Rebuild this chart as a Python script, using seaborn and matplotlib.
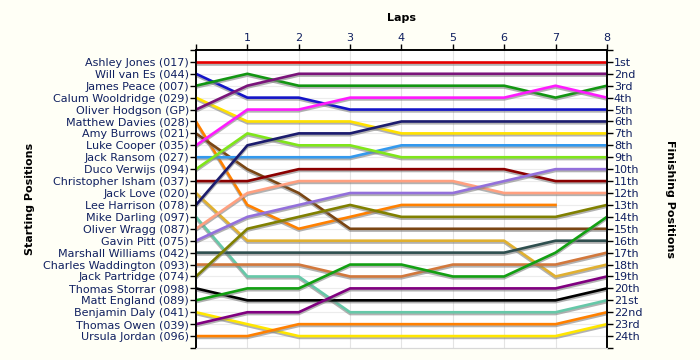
import pandas as pd
import numpy as np
import seaborn as sns
from matplotlib import pyplot as plt
import matplotlib.patheffects as pe

drivers = [
    'Ashley Jones (017)', 'Will van Es (044)', 'James Peace (007)',
    'Calum Wooldridge (029)', 'Oliver Hodgson (GP)', 'Matthew Davies (028)',
    'Amy Burrows (021)', 'Luke Cooper (035)', 'Jack Ransom (027)',
    'Duco Verwijs (094)', 'Christopher Isham (037)', 'Jack Love (020)',
    'Lee Harrison (078)', 'Mike Darling (097)', 'Oliver Wragg (087)',
    'Gavin Pitt (075)', 'Marshall Williams (042)', 'Charles Waddington (093)',
    'Jack Partridge (074)', 'Thomas Storrar (098)', 'Matt England (089)',
    'Benjamin Daly (041)', 'Thomas Owen (039)', 'Ursula Jordan (096)',
]

colors = [
    '#e60000', '#1414c8', '#129612', '#ffe100', '#7a147a', '#ff8000',
    '#7a4614', '#ff1aff', '#3399ee', '#80e61a', '#8b0000', '#e0b030',
    '#1c1c6e', '#66c8a8', '#ffa080', '#9370db', '#2f4f4f', '#d2783c',
    '#808000', '#000000', '#12a012', '#ffe600', '#800080', '#ff8000',
]

laps = [0, 1, 2, 3, 4, 5, 6, 7, 8]

# position of each driver at the end of each lap (None = retired)
positions = [
    [1, 1, 1, 1, 1, 1, 1, 1, 1],
    [2, 4, 4, 5, 5, 5, 5, 5, 5],
    [3, 2, 3, 3, 3, 3, 3, 4, 3],
    [4, 6, 6, 6, 7, 7, 7, 7, 7],
    [5, 3, 2, 2, 2, 2, 2, 2, 2],
    [6, 13, 15, 14, 13, 13, 13, 13, None],
    [7, 10, 12, 15, 15, 15, 15, 15, 15],
    [8, 5, 5, 4, 4, 4, 4, 3, 4],
    [9, 9, 9, 9, 8, 8, 8, 8, 8],
    [10, 7, 8, 8, 9, 9, 9, 9, 9],
    [11, 11, 10, 10, 10, 10, 10, 11, 11],
    [12, 16, 16, 16, 16, 16, 16, 19, 18],
    [13, 8, 7, 7, 6, 6, 6, 6, 6],
    [14, 19, 19, 22, 22, 22, 22, 22, 21],
    [15, 12, 11, 11, 11, 11, 12, 12, 12],
    [16, 14, 13, 12, 12, 12, 11, 10, 10],
    [17, 17, 17, 17, 17, 17, 17, 16, 16],
    [18, 18, 18, 19, 19, 18, 18, 18, 17],
    [19, 15, 14, 13, 14, 14, 14, 14, 13],
    [20, 21, 21, 21, 21, 21, 21, 21, 20],
    [21, 20, 20, 18, 18, 19, 19, 17, 14],
    [22, 23, 24, 24, 24, 24, 24, 24, 23],
    [23, 22, 22, 20, 20, 20, 20, 20, 19],
    [24, 24, 23, 23, 23, 23, 23, 23, 22],
]

finish_labels = ['1st', '2nd', '3rd'] + ['%dth' % i for i in range(4, 21)] + \
    ['21st', '22nd', '23rd', '24th']

rows = []
for name, pos in zip(drivers, positions):
    for lap, p in zip(laps, pos):
        if p is not None:
            rows.append({'driver': name, 'lap': lap, 'pos': p})
df = pd.DataFrame(rows)

label_col = '#102060'
bg = '#fffff6'

fig = plt.figure(figsize=(7, 3.6), dpi=100, facecolor=bg)
ax = fig.add_axes([0.28, 0.0333, 0.587, 0.828])
ax.set_facecolor('white')

for lap in laps:
    ax.axvline(lap, color='#e4e4e4', lw=0.8, zorder=0)
for p in range(1, 25):
    ax.axhline(p, color='#ececec', lw=0.8, zorder=0)

sns.lineplot(data=df, x='lap', y='pos', hue='driver', palette=dict(zip(drivers, colors)),
             estimator=None, sort=False, lw=1.9, legend=False, ax=ax, zorder=3)
for line in ax.get_lines():
    if len(line.get_xdata()) > 2:
        line.set_path_effects([pe.SimpleLineShadow(offset=(0, -1.3), shadow_color='#808080', alpha=0.6),
                               pe.Normal()])

ax.set_xlim(0, 8)
ax.set_ylim(25, 0)

ax.xaxis.tick_top()
ax.set_xticks(laps)
ax.set_xticklabels([''] + [str(l) for l in laps[1:]])
ax.tick_params(axis='x', direction='out', length=4, width=1, colors='black',
               labelcolor=label_col, labelsize=8, pad=1)
ax.set_yticks(range(1, 25))
ax.set_yticklabels(drivers)
ax.set_yticks([0, 25], minor=True)
ax.tick_params(axis='y', which='both', direction='out', length=4, width=1,
               labelcolor=label_col, labelsize=8, pad=1)
ax.set_xlabel('')
ax.set_ylabel('')

ax2 = ax.twinx()
ax2.set_ylim(25, 0)
ax2.set_yticks(range(1, 25))
ax2.set_yticklabels(finish_labels)
ax2.set_yticks([0, 25], minor=True)
ax2.tick_params(axis='y', which='both', direction='out', length=4, width=1,
                labelcolor=label_col, labelsize=8, pad=1)

for a in (ax, ax2):
    for s in ('left', 'right', 'top'):
        a.spines[s].set_color('black')
        a.spines[s].set_linewidth(1.2)
    a.spines['bottom'].set_color('#d8d8d8')

fig.text(0.573, 0.95, 'Laps', ha='center', va='center', fontsize=8, fontweight='bold')
fig.text(0.043, 0.447, 'Starting Positions', ha='center', va='center', rotation=90,
         fontsize=8, fontweight='bold')
fig.text(0.957, 0.447, 'Finishing Positions', ha='center', va='center', rotation=270,
         fontsize=8, fontweight='bold')

plt.savefig('out.png', dpi=100, facecolor=bg)
